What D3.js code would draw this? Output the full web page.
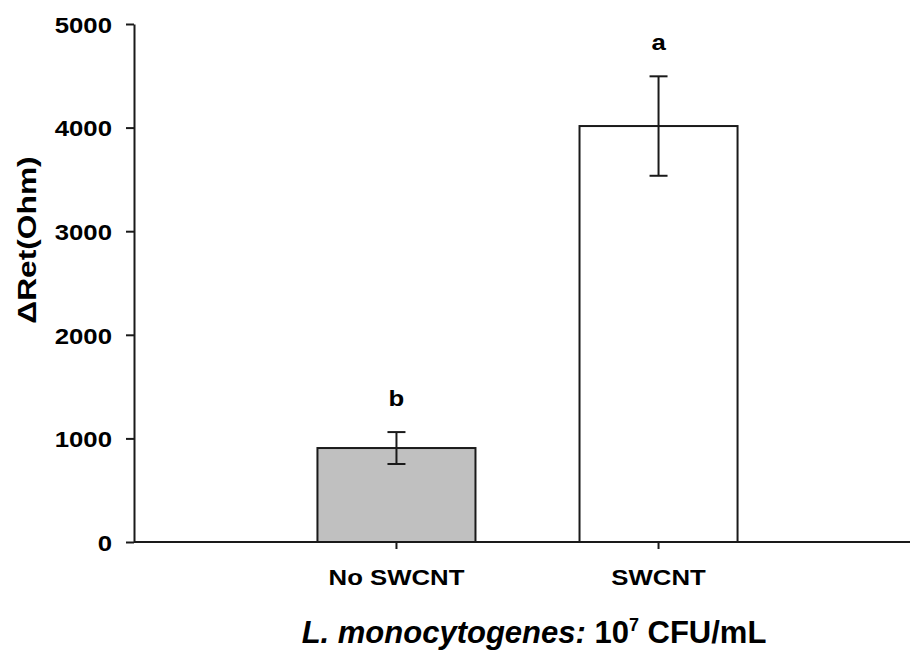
<!DOCTYPE html>
<html>
<head>
<meta charset="utf-8">
<script src="https://cdn.jsdelivr.net/npm/d3@7"></script>
<style>
  html, body { margin: 0; padding: 0; background: #fff; }
  svg text { font-family: "Liberation Sans", Arial, sans-serif; font-weight: bold; fill: #000; }
</style>
</head>
<body>
<svg id="chart" width="912" height="654"></svg>
<script>
// Groups, mean ΔRet, standard error and significance letters
const categories = ["No SWCNT", "SWCNT"];
const means = [907, 4015];
const errors = [154, 480];
const letters = ["b", "a"];
const fills = ["#c0c0c0", "#ffffff"];
const yTicks = [0, 1000, 2000, 3000, 4000, 5000];

const svg = d3.select("#chart");
const stretch = 1.12;   // wide glyph rendering

const y = d3.scaleLinear().domain([0, 5000]).range([542, 24]);
const x = d3.scaleBand().domain(categories).range([134, 921])
  .paddingInner(0.397).paddingOuter(0.70);

const axisColor = "#1a1a1a";

// Y axis
const yAxis = svg.append("g").attr("transform", "translate(134,0)")
  .call(d3.axisLeft(y).tickValues(yTicks).tickSize(8).tickSizeOuter(0).tickFormat(d3.format("d")));
yAxis.select(".domain").attr("stroke", axisColor).attr("stroke-width", 2);
yAxis.selectAll(".tick line").attr("stroke", axisColor).attr("stroke-width", 2);
yAxis.selectAll(".tick text")
  .attr("font-size", 23)
  .attr("x", 0)
  .attr("dy", "0.36em")
  .attr("transform", `translate(-22,0) scale(${stretch},1)`);

// Bars
svg.append("g").selectAll("rect").data(categories).join("rect")
  .attr("x", d => x(d))
  .attr("y", (d, i) => y(means[i]))
  .attr("width", x.bandwidth())
  .attr("height", (d, i) => y(0) - y(means[i]))
  .attr("fill", (d, i) => fills[i])
  .attr("stroke", axisColor)
  .attr("stroke-width", 2);

// X axis
const xAxis = svg.append("g").attr("transform", "translate(0,542)")
  .call(d3.axisBottom(x).tickSize(7).tickSizeOuter(0));
xAxis.select(".domain").attr("d", "M134,0H910").attr("stroke", axisColor).attr("stroke-width", 2);
xAxis.selectAll(".tick line").attr("stroke", axisColor).attr("stroke-width", 2);
xAxis.selectAll(".tick text")
  .attr("font-size", 23)
  .attr("y", 0)
  .attr("dy", 0)
  .attr("transform", `translate(0,43) scale(${stretch},1)`);

// Error bars with significance letters
const cap = 9;
const eb = svg.append("g").attr("stroke", axisColor).attr("stroke-width", 2);
categories.forEach((c, i) => {
  const cx = x(c) + x.bandwidth() / 2;
  const top = y(means[i] + errors[i]);
  const bot = y(means[i] - errors[i]);
  eb.append("line").attr("x1", cx).attr("x2", cx).attr("y1", top).attr("y2", bot);
  eb.append("line").attr("x1", cx - cap).attr("x2", cx + cap).attr("y1", top).attr("y2", top);
  eb.append("line").attr("x1", cx - cap).attr("x2", cx + cap).attr("y1", bot).attr("y2", bot);

  svg.append("text")
    .attr("text-anchor", "middle")
    .attr("font-size", 23)
    .attr("transform", `translate(${cx},${top - 26}) scale(${stretch},1)`)
    .text(letters[i]);
});

// Y axis title
svg.append("text")
  .attr("text-anchor", "middle")
  .attr("font-size", 25)
  .attr("transform", `translate(36,240) rotate(-90) scale(1.27,1)`)
  .text("ΔRet(Ohm)");

// X axis title
const xt = svg.append("text")
  .attr("text-anchor", "middle")
  .attr("font-size", 31)
  .attr("transform", `translate(534,643)`);
xt.append("tspan").attr("font-style", "italic").text("L. monocytogenes:");
xt.append("tspan").text(" 10");
xt.append("tspan").attr("font-size", 18).attr("dy", -12).text("7");
xt.append("tspan").attr("dy", 12).text(" CFU/mL");
</script>
</body>
</html>
